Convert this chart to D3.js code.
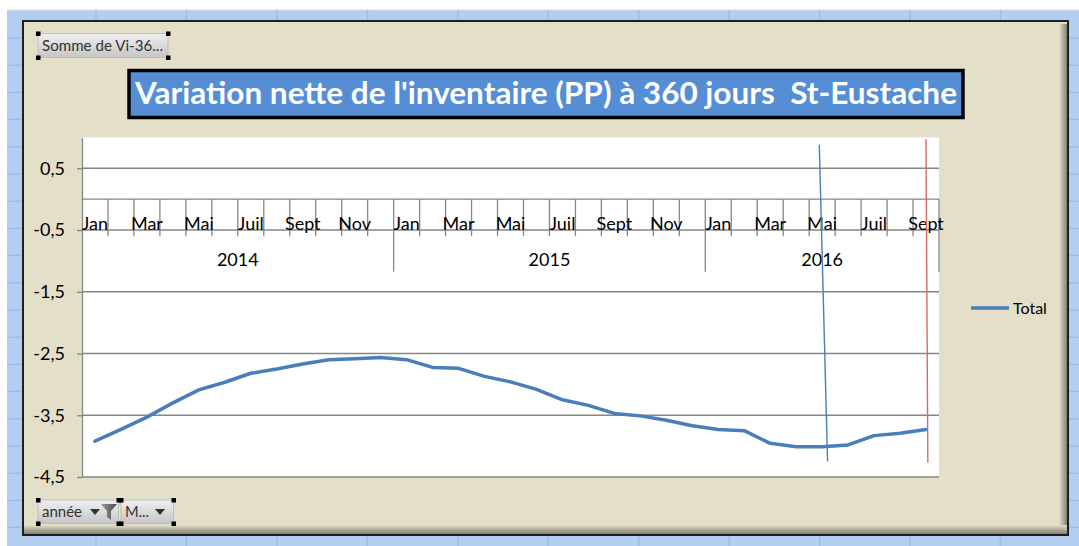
<!DOCTYPE html>
<html>
<head>
<meta charset="utf-8">
<script src="https://cdn.jsdelivr.net/npm/d3@7"></script>
<style>
  body { margin: 0; background: #fff; }
  svg { display: block; font-family: Lato, "Open Sans", sans-serif; }
</style>
</head>
<body>
<svg id="chart" width="1079" height="546"></svg>
<script>
// chart values
const years = ["2014", "2015", "2016"];
const monthNames = ["Jan", "Févr", "Mar", "Avr", "Mai", "Juin", "Juil", "Août", "Sept", "Oct", "Nov", "Déc"];
const monthsPerYear = [12, 12, 9];
const totals = [
  -3.92, -3.73, -3.53, -3.30, -3.09, -2.965, -2.82, -2.75, -2.67, -2.60, -2.585, -2.565,
  -2.60, -2.725, -2.74, -2.87, -2.96, -3.08, -3.25, -3.34, -3.47, -3.51, -3.58, -3.67,
  -3.73, -3.75, -3.955, -4.01, -4.01, -3.98, -3.83, -3.79, -3.73
];
const yTicks = [0.5, -0.5, -1.5, -2.5, -3.5, -4.5];
const yDomain = [-4.5, 1];
const seriesName = "Total";
const chartTitle = "Variation nette de l'inventaire (PP) à 360 jours  St-Eustache";
const valueField = "Somme de Vi-36...";
const filterFields = ["année", "M..."];
// hand-drawn marker lines on the chart (category, shift in bands, values)
const markerKeys = ["2016-Mai", "2016-Sept"];
const markerShiftTop = [-0.11, 0];
const markerShiftBottom = [0.21, 0.07];
const markerTop = [0.88, 0.97];
const markerBottom = [-4.25, -4.27];
const markerColors = ["#4a7ebb", "#d76a6a"];

document.addEventListener("DOMContentLoaded", function() {
  const svg = d3.select("#chart"),
        W = 1079, H = 546,
        plot = {left: 82, top: 137.4, right: 939, bottom: 477};

  const rows = years.flatMap((yr, i) =>
    monthNames.slice(0, monthsPerYear[i]).map((m, j) => ({year: yr, month: m, key: yr + "-" + m, showLabel: j % 2 === 0})));
  rows.forEach((d, i) => d.value = totals[i]);

  const x = d3.scaleBand().domain(rows.map(d => d.key)).range([plot.left, plot.right]).padding(0),
        y = d3.scaleLinear().domain(yDomain).range([plot.bottom, plot.top]);

  const fmt = d3.formatLocale({decimal: ",", thousands: " ", grouping: [3], currency: ["", " €"], minus: "-"}).format(".1f");

  const defs = svg.append("defs");
  const btnGrad = defs.append("linearGradient").attr("id", "btn").attr("x1", 0).attr("y1", 0).attr("x2", 0).attr("y2", 1);
  btnGrad.append("stop").attr("offset", "0%").attr("stop-color", "#efefef");
  btnGrad.append("stop").attr("offset", "100%").attr("stop-color", "#c6c6c6");
  const shR = defs.append("linearGradient").attr("id", "shR").attr("x1", 0).attr("y1", 0).attr("x2", 1).attr("y2", 0);
  shR.append("stop").attr("offset", "0%").attr("stop-color", "#e4dfc9");
  shR.append("stop").attr("offset", "100%").attr("stop-color", "#77746a");
  const shB = defs.append("linearGradient").attr("id", "shB").attr("x1", 0).attr("y1", 0).attr("x2", 0).attr("y2", 1);
  shB.append("stop").attr("offset", "0%").attr("stop-color", "#e4dfc9");
  shB.append("stop").attr("offset", "100%").attr("stop-color", "#77746a");
  const funnel = defs.append("linearGradient").attr("id", "funnel").attr("x1", 0).attr("y1", 0).attr("x2", 1).attr("y2", 0);
  funnel.append("stop").attr("offset", "0%").attr("stop-color", "#9a9a9a");
  funnel.append("stop").attr("offset", "100%").attr("stop-color", "#4a4a4a");

  // spreadsheet behind the chart
  svg.append("rect").attr("width", W).attr("height", H).attr("fill", "#fff");
  svg.append("rect").attr("x", 7).attr("y", 10).attr("width", W - 7).attr("height", H - 10).attr("fill", "#b2cff2");
  svg.append("line").attr("x1", 7).attr("x2", W).attr("y1", 10).attr("y2", 10).attr("stroke", "#dcdcdc");
  svg.append("g").selectAll("line").data(d3.range(96, W, 90.45)).join("line")
      .attr("x1", d => d).attr("x2", d => d).attr("y1", 10).attr("y2", H)
      .attr("stroke", "#9cbde8").attr("stroke-width", 1.5);
  svg.append("g").selectAll("line").data(d3.range(38, H, 27.2)).join("line")
      .attr("x1", 7).attr("x2", W).attr("y1", d => d).attr("y2", d => d)
      .attr("stroke", "#9cbde8").attr("stroke-width", 1.5);

  // chart frame
  svg.append("rect").attr("x", 23).attr("y", 21).attr("width", 1045).attr("height", 514).attr("fill", "#e4dfc9");
  svg.append("rect").attr("x", 1059).attr("y", 24).attr("width", 9).attr("height", 511).attr("fill", "url(#shR)");
  svg.append("rect").attr("x", 24).attr("y", 525).attr("width", 1044).attr("height", 10).attr("fill", "url(#shB)");
  svg.append("rect").attr("x", 23).attr("y", 21).attr("width", 1045).attr("height", 514)
      .attr("fill", "none").attr("stroke", "#1e1e1e").attr("stroke-width", 2);

  // plot area
  svg.append("rect").attr("x", plot.left).attr("y", plot.top)
      .attr("width", plot.right - plot.left).attr("height", plot.bottom - plot.top).attr("fill", "#fff");

  svg.append("g").selectAll("line").data(yTicks).join("line")
      .attr("x1", plot.left).attr("x2", plot.right).attr("y1", d => y(d)).attr("y2", d => y(d))
      .attr("stroke", "#868686").attr("stroke-width", 1.3);

  const yAxis = svg.append("g").attr("transform", "translate(" + plot.left + ",0)")
      .call(d3.axisLeft(y).tickValues(yTicks).tickFormat(fmt).tickSize(5).tickPadding(12).tickSizeOuter(0));
  yAxis.select(".domain").attr("stroke", "#868686").attr("stroke-width", 1.3);
  yAxis.selectAll(".tick line").attr("stroke", "#868686").attr("stroke-width", 1.3);
  yAxis.selectAll("text").attr("font-size", 18).attr("fill", "#000").attr("font-family", "Lato, sans-serif");

  // multi-level category axis crossing at 0
  const y0 = y(0);
  const xAxis = svg.append("g");
  xAxis.append("line").attr("x1", plot.left).attr("x2", plot.right).attr("y1", y0).attr("y2", y0)
      .attr("stroke", "#868686").attr("stroke-width", 1.3);
  const yearStarts = rows.filter((d, i) => i > 0 && d.month === monthNames[0]).map(d => x(d.key));
  const bounds = rows.slice(1).map(d => x(d.key)).filter(v => !yearStarts.includes(v));
  xAxis.selectAll("line.tick").data(bounds).join("line").attr("class", "tick")
      .attr("x1", d => d).attr("x2", d => d).attr("y1", y0).attr("y2", y0 + 37)
      .attr("stroke", "#868686").attr("stroke-width", 1.3);
  xAxis.selectAll("line.year").data(yearStarts.concat([plot.right])).join("line").attr("class", "year")
      .attr("x1", d => d).attr("x2", d => d).attr("y1", y0).attr("y2", y0 + 72.5)
      .attr("stroke", "#868686").attr("stroke-width", 1.3);
  xAxis.selectAll("text.month").data(rows.filter(d => d.showLabel)).join("text").attr("class", "month")
      .attr("x", d => x(d.key) + x.bandwidth() / 2).attr("y", y0 + 30.5)
      .attr("text-anchor", "middle").attr("font-size", 18).attr("fill", "#000")
      .text(d => d.month);
  xAxis.selectAll("text.year").data(years).join("text").attr("class", "year")
      .attr("x", yr => {
        const ks = rows.filter(d => d.year === yr);
        return (x(ks[0].key) + x(ks[ks.length - 1].key) + x.bandwidth()) / 2;
      })
      .attr("y", y0 + 67).attr("text-anchor", "middle").attr("font-size", 18).attr("fill", "#000")
      .text(yr => yr);

  // series
  const line = d3.line().x(d => x(d.key) + x.bandwidth() / 2).y(d => y(d.value));
  svg.append("path").datum(rows).attr("d", line)
      .attr("fill", "none").attr("stroke", "#4a7ebb").attr("stroke-width", 3.5)
      .attr("stroke-linejoin", "round").attr("stroke-linecap", "round");

  // marker lines
  svg.append("g").selectAll("line").data(markerKeys).join("line")
      .attr("x1", (k, i) => x(k) + x.bandwidth() * (0.5 + markerShiftTop[i]))
      .attr("x2", (k, i) => x(k) + x.bandwidth() * (0.5 + markerShiftBottom[i]))
      .attr("y1", (k, i) => y(markerTop[i])).attr("y2", (k, i) => y(markerBottom[i]))
      .attr("stroke", (k, i) => markerColors[i]).attr("stroke-width", 1.4);

  // legend
  const lg = svg.append("g").attr("transform", "translate(971,308)");
  lg.append("line").attr("x1", 0).attr("x2", 38).attr("stroke", "#4a7ebb").attr("stroke-width", 3.5);
  lg.append("text").attr("x", 42).attr("y", 6).attr("font-size", 16).attr("fill", "#000").text(seriesName);

  // title
  svg.append("rect").attr("x", 129).attr("y", 70.5).attr("width", 834).attr("height", 47)
      .attr("fill", "#558ed5").attr("stroke", "#000").attr("stroke-width", 3.5);
  svg.append("text").attr("x", 546).attr("y", 104).attr("text-anchor", "middle")
      .attr("font-size", 31).attr("font-weight", "bold").attr("fill", "#fff")
      .style("white-space", "pre")
      .attr("textLength", 822).attr("lengthAdjust", "spacingAndGlyphs")
      .text(chartTitle);

  // pivot field buttons
  function handles(x0, y0, x1, y1) {
    svg.append("g").selectAll("rect").data([[x0, y0], [x1, y0], [x0, y1], [x1, y1]]).join("rect")
        .attr("x", d => d[0] - 2).attr("y", d => d[1] - 2).attr("width", 4.5).attr("height", 4.5).attr("fill", "#000");
  }
  function button(x0, y0, w, h, label, len) {
    svg.append("rect").attr("x", x0).attr("y", y0).attr("width", w).attr("height", h).attr("rx", 2)
        .attr("fill", "url(#btn)").attr("stroke", "#b8b8b8").attr("stroke-width", 0.8);
    const t = svg.append("text").attr("x", x0 + 4).attr("y", y0 + h - 6.5).attr("font-size", 15.5).attr("fill", "#333").text(label);
    if (len) t.attr("textLength", len).attr("lengthAdjust", "spacingAndGlyphs");
  }
  function arrow(cx, cy) {
    svg.append("path").attr("d", "M" + (cx - 5) + "," + (cy - 3) + "h10l-5,6z").attr("fill", "#333");
  }
  button(38, 33.5, 130, 24, valueField, 121);
  handles(38, 33.5, 168, 57.5);

  button(38, 500, 80.5, 23.5, filterFields[0], 40);
  arrow(95, 512);
  svg.append("path").attr("d", "M101,504h16l-6,7v9l-4,-3v-6z").attr("fill", "url(#funnel)");
  button(121, 500, 52.5, 23.5, filterFields[1], 24);
  arrow(160, 512);
  handles(38, 500, 118.5, 523.5);
  handles(121, 500, 173.5, 523.5);
});
</script>
</body>
</html>
